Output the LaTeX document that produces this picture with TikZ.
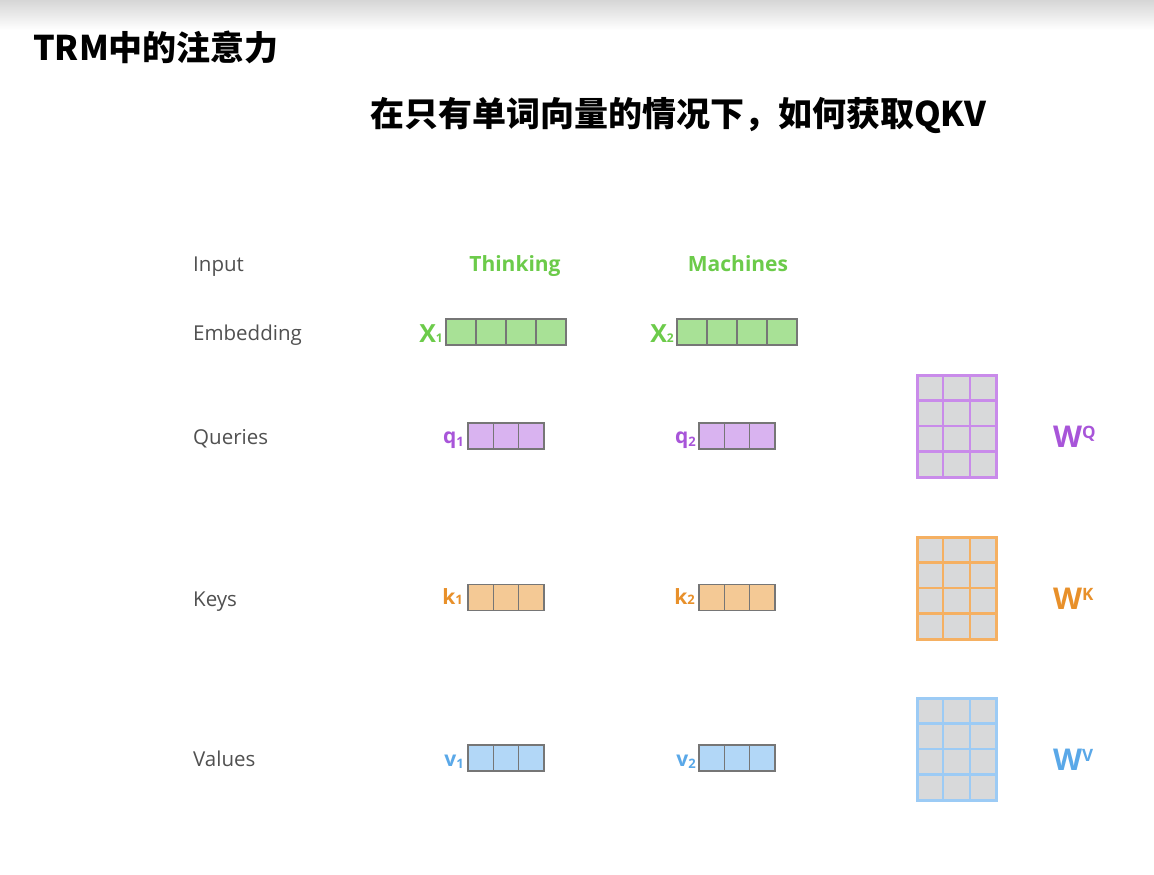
\documentclass[tikz,border=0pt]{standalone}
\usepackage{fontspec}
\setmainfont{Open Sans}
\newfontfamily\cjk{Noto Sans CJK SC}
\definecolor{labelgray}{HTML}{505050}
\definecolor{tgreen}{HTML}{6CCB4A}
\definecolor{xfill}{HTML}{A8E196}
\definecolor{tpurple}{HTML}{A855D9}
\definecolor{qfill}{HTML}{D9B3F0}
\definecolor{qborder}{HTML}{C98BEA}
\definecolor{torange}{HTML}{E8902A}
\definecolor{kfill}{HTML}{F4C995}
\definecolor{kborder}{HTML}{F5B062}
\definecolor{tblue}{HTML}{5AA8E8}
\definecolor{vfill}{HTML}{B2D7F7}
\definecolor{vborder}{HTML}{9CCBF5}
\definecolor{mgray}{HTML}{D8D9DA}
\definecolor{cellborder}{HTML}{767676}
\definecolor{gradgray}{HTML}{D6D6D6}
\tikzset{
  rowlabel/.style={anchor=base west, inner sep=0, text=labelgray, font=\fontsize{20.5}{24}\selectfont},
  wordlabel/.style={anchor=base, inner sep=0, text=tgreen, font=\fontsize{21}{24}\selectfont\bfseries},
  vcell/.style={draw=cellborder, line width=1.2pt, minimum height=26pt, inner sep=0, outer sep=0},
  xcell/.style={vcell, fill=xfill, minimum width=30pt},
  qcell/.style={vcell, fill=qfill, minimum width=25.3pt},
  kcell/.style={vcell, fill=kfill, minimum width=25.3pt},
  vvcell/.style={vcell, fill=vfill, minimum width=25.3pt},
  mcell/.style={draw=#1, fill=mgray, line width=2.2pt, minimum width=26.33pt, minimum height=25.5pt, inner sep=0, outer sep=0},
  veclab/.style={anchor=base east, inner sep=0, text=#1, font=\fontsize{21}{21}\selectfont\bfseries},
  wlab/.style={anchor=base west, inner sep=0, text=#1, font=\fontsize{30}{30}\selectfont\bfseries},
  titletext/.style={inner sep=0, font=\cjk\bfseries\fontsize{34}{34}\selectfont}
}
\begin{document}
\begin{tikzpicture}[x=1pt,y=-1pt]
\useasboundingbox (0,0) rectangle (1154,875);
\fill[white] (0,0) rectangle (1154,875);
\shade[top color=gradgray, bottom color=white] (0,0) rectangle (1154,30);

% titles
\node[titletext, anchor=base west] (title) at (33,61) {TRM中的注意力};
\node[titletext, anchor=base] (subtitle) at (678,126) {在只有单词向量的情况下，如何获取QKV};

% row labels
\node[rowlabel] (linput) at (193,271) {Input};
\node[rowlabel] (lemb) at (193,340) {Embedding};
\node[rowlabel] (lq) at (193,444) {Queries};
\node[rowlabel] (lk) at (193,606) {Keys};
\node[rowlabel] (lv) at (193,766) {Values};

% words
\node[wordlabel] (w1) at (515,271) {Thinking};
\node[wordlabel] (w2) at (738,271) {Machines};

% embeddings
\foreach \i in {0,...,3} {
  \node[xcell] (xa\i) at ({461+30*\i},332) {};
  \node[xcell] (xb\i) at ({692+30*\i},332) {};
}
\node[anchor=base east, inner sep=0, text=tgreen, font=\fontsize{25}{25}\selectfont\bfseries] (x1lab) at (443,342) {X{\fontsize{12}{12}\selectfont 1}};
\node[anchor=base east, inner sep=0, text=tgreen, font=\fontsize{25}{25}\selectfont\bfseries] (x2lab) at (674,342) {X{\fontsize{12}{12}\selectfont 2}};

% q, k, v vectors
\foreach \i in {0,...,2} {
  \node[qcell] (qa\i) at ({480.65+25.3*\i},436) {};
  \node[qcell] (qb\i) at ({711.65+25.3*\i},436) {};
  \node[kcell] (ka\i) at ({480.65+25.3*\i},597.5) {};
  \node[kcell] (kb\i) at ({711.65+25.3*\i},597.5) {};
  \node[vvcell] (va\i) at ({480.65+25.3*\i},758) {};
  \node[vvcell] (vb\i) at ({711.65+25.3*\i},758) {};
}
\node[veclab=tpurple] (q1lab) at (464,443) {q\raisebox{-3pt}{\fontsize{13}{13}\selectfont 1}};
\node[veclab=tpurple] (q2lab) at (696,443) {q\raisebox{-3pt}{\fontsize{13}{13}\selectfont 2}};
\node[veclab=torange] (k1lab) at (463,604) {k{\fontsize{13}{13}\selectfont 1}};
\node[veclab=torange] (k2lab) at (695,604) {k{\fontsize{13}{13}\selectfont 2}};
\node[veclab=tblue] (v1lab) at (464,766) {v\raisebox{-2pt}{\fontsize{13}{13}\selectfont 1}};
\node[veclab=tblue] (v2lab) at (696,766) {v\raisebox{-2pt}{\fontsize{13}{13}\selectfont 2}};

% weight matrices
\foreach \r in {0,...,3} {
  \foreach \c in {0,...,2} {
    \node[mcell=qborder] (wq\r\c) at ({917+26.33*(\c+0.5)},{375+25.5*(\r+0.5)}) {};
    \node[mcell=kborder] (wk\r\c) at ({917+26.33*(\c+0.5)},{537+25.5*(\r+0.5)}) {};
    \node[mcell=vborder] (wv\r\c) at ({917+26.33*(\c+0.5)},{698+25.5*(\r+0.5)}) {};
  }
}
\draw[qborder, line width=3pt] (wq00.north west) rectangle (wq32.south east);
\draw[kborder, line width=3pt] (wk00.north west) rectangle (wk32.south east);
\draw[vborder, line width=3pt] (wv00.north west) rectangle (wv32.south east);

\node[wlab=tpurple] (wqlab) at (1053,447) {W\raisebox{9pt}{\fontsize{17}{17}\selectfont Q}};
\node[wlab=torange] (wklab) at (1053,609) {W\raisebox{9pt}{\fontsize{17}{17}\selectfont K}};
\node[wlab=tblue] (wvlab) at (1053,770) {W\raisebox{9pt}{\fontsize{17}{17}\selectfont V}};
\end{tikzpicture}
\end{document}
